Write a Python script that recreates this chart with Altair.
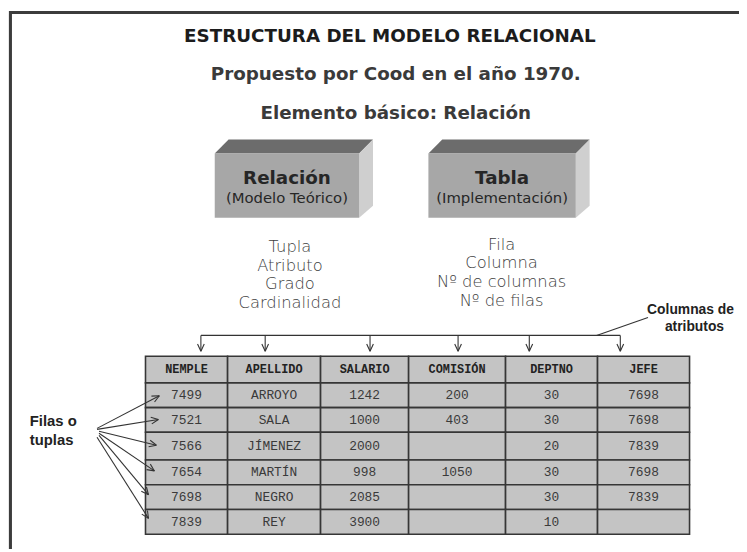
import math
import altair as alt
import pandas as pd

# ---------------- data (text content) ----------------
title_lines = ["ESTRUCTURA DEL MODELO RELACIONAL",
               "Propuesto por Cood en el año 1970.",
               "Elemento básico: Relación"]
box_titles = ["Relación", "Tabla"]
box_subtitles = ["(Modelo Teórico)", "(Implementación)"]
relacion_terms = ["Tupla", "Atributo", "Grado", "Cardinalidad"]
tabla_terms = ["Fila", "Columna", "Nº de columnas", "Nº de filas"]
rows_label = ["Filas o", "tuplas"]
cols_label = ["Columnas de", "atributos"]

columns = ["NEMPLE", "APELLIDO", "SALARIO", "COMISIÓN", "DEPTNO", "JEFE"]
nemple = ["7499", "7521", "7566", "7654", "7698", "7839"]
apellido = ["ARROYO", "SALA", "JÍMENEZ", "MARTÍN", "NEGRO", "REY"]
salario = ["1242", "1000", "2000", "998", "2085", "3900"]
comision = ["200", "403", "", "1050", "", ""]
deptno = ["30", "30", "20", "30", "30", "10"]
jefe = ["7698", "7698", "7839", "7698", "7839", ""]

# ---------------- layout (page coordinates) ----------------
W, H = 739, 544
X0, Y0 = 8, 8
title_y = [33, 72, 111]
title_x = [394, 400, 400]
box_left = [217, 433]
box_right = [363, 582]
box_top, box_bottom = 152, 217
depth_dx, depth_dy = 14, 14
list_x = [293, 507]
list_y = [[247, 266, 284, 303], [245, 263, 282, 301]]
col_edges = [147, 230, 324, 413, 511, 604, 697]
row_edges = [357, 384, 409, 434, 462, 487, 512, 537]
col_arrow_x = [203, 268, 374, 463, 535, 627]
bus_y, arrow_tip_y = 336, 352
row_arrow_start = [(98, 430), (98, 431), (100, 433), (100, 435), (100, 437), (98, 439)]
row_arrow_tip = [(161, 397), (160, 421), (158, 447), (156, 473), (150, 497), (150, 521)]

xs = alt.Scale(domain=[X0, X0 + W], nice=False, zero=False)
ys = alt.Scale(domain=[Y0, Y0 + H], nice=False, zero=False, reverse=True)


def X(f="x"):
    return alt.X(f"{f}:Q", scale=xs, axis=None)


def Y(f="y"):
    return alt.Y(f"{f}:Q", scale=ys, axis=None)


def texts(df, **kw):
    return alt.Chart(df).mark_text(baseline="middle", **kw).encode(
        x=X(), y=Y(), text="t:N")


layers = []

# outer grey margin and panel
margin = pd.DataFrame({"x": [X0], "x2": [10], "y": [Y0], "y2": [Y0 + H]})
layers.append(alt.Chart(margin).mark_rect(color="#ebebeb").encode(x=X(), x2="x2", y=Y(), y2="y2"))
panel = pd.DataFrame({"x": [10.5], "x2": [900], "y": [9.5], "y2": [900]})
layers.append(alt.Chart(panel).mark_rect(fill="white", stroke="#3c3c3c", strokeWidth=3, clip=True)
              .encode(x=X(), x2="x2", y=Y(), y2="y2"))

# titles
layers.append(texts(pd.DataFrame({"t": title_lines[:1], "x": title_x[:1], "y": title_y[:1]}),
                    font="DejaVu Sans", fontSize=18.5, fontWeight="bold", color="#1c1c1c"))
layers.append(texts(pd.DataFrame({"t": title_lines[1:], "x": title_x[1:], "y": title_y[1:]}),
                    font="DejaVu Sans", fontSize=18.5, fontWeight="bold", color="#3a3a3a"))

# 3D boxes
front = pd.DataFrame({"x": box_left, "x2": box_right, "y": [box_top] * 2, "y2": [box_bottom] * 2})
top_rows, side_rows = [], []
for i, (l, r) in enumerate(zip(box_left, box_right)):
    top_rows += [{"box": i, "y": box_top, "xa": l, "xb": r},
                 {"box": i, "y": box_top - depth_dy, "xa": l + depth_dx, "xb": r + depth_dx}]
    side_rows += [{"box": i, "x": r, "ya": box_top, "yb": box_bottom},
                  {"box": i, "x": r + depth_dx, "ya": box_top - depth_dy, "yb": box_bottom - 12}]
layers.append(alt.Chart(pd.DataFrame(top_rows)).mark_area(orient="horizontal", color="#6c6c6c")
              .encode(y=Y(), x=X("xa"), x2="xb", detail="box:N"))
layers.append(alt.Chart(pd.DataFrame(side_rows)).mark_area(orient="vertical", color="#cfcfcf")
              .encode(x=X(), y=Y("ya"), y2="yb", detail="box:N"))
layers.append(alt.Chart(front).mark_rect(color="#a7a7a7").encode(x=X(), x2="x2", y=Y(), y2="y2"))

centers = [(l + r) / 2 for l, r in zip(box_left, box_right)]
layers.append(texts(pd.DataFrame({"t": box_titles, "x": centers, "y": [177, 177]}),
                    font="DejaVu Sans", fontSize=18.5, fontWeight="bold", color="#262626"))
layers.append(texts(pd.DataFrame({"t": box_subtitles, "x": centers, "y": [197, 197]}),
                    font="DejaVu Sans", fontSize=15, color="#262626"))

# term lists
lst = pd.DataFrame({"t": relacion_terms + tabla_terms,
                    "x": [list_x[0]] * 4 + [list_x[1]] * 4,
                    "y": list_y[0] + list_y[1]})
layers.append(texts(lst, font="DejaVu Sans", fontSize=16.5, fontWeight=300, color="#404040"))

# side labels
layers.append(texts(pd.DataFrame({"t": rows_label, "x": [30, 30], "y": [423, 442]}),
                    font="Liberation Sans", fontSize=15, fontWeight="bold", color="#222", align="left"))
layers.append(texts(pd.DataFrame({"t": cols_label, "x": [698, 702], "y": [310, 328]}),
                    font="Liberation Sans", fontSize=14, fontWeight="bold", color="#222"))


def arrow_heads(segs, length=8, half=25):
    out = []
    for (x1, y1), (x2, y2) in segs:
        a = math.atan2(y2 - y1, x2 - x1)
        for s in (-1, 1):
            b = a + math.pi + s * math.radians(half)
            out.append({"x": x2, "y": y2, "x2": x2 + length * math.cos(b), "y2": y2 + length * math.sin(b)})
    return out


# connector lines
lines = [{"x": col_arrow_x[0], "y": bus_y, "x2": col_arrow_x[-1], "y2": bus_y},
         {"x": 603, "y": bus_y, "x2": 655, "y2": 318}]
col_segs = [((cx, bus_y), (cx, arrow_tip_y)) for cx in col_arrow_x]
lines += [{"x": a[0], "y": a[1], "x2": b[0], "y2": b[1]} for a, b in col_segs]
row_segs = list(zip(row_arrow_start, row_arrow_tip))
lines += [{"x": a[0], "y": a[1], "x2": b[0], "y2": b[1]} for a, b in row_segs]
lines += arrow_heads(col_segs + row_segs)

# table
cells, header_txt, body_txt = [], [], []
body = [nemple, apellido, salario, comision, deptno, jefe]
for r in range(len(row_edges) - 1):
    for c in range(len(columns)):
        cells.append({"x": col_edges[c], "x2": col_edges[c + 1], "y": row_edges[r], "y2": row_edges[r + 1]})
        cx = (col_edges[c] + col_edges[c + 1]) / 2
        cy = (row_edges[r] + row_edges[r + 1]) / 2
        if r == 0:
            header_txt.append({"t": columns[c], "x": cx, "y": cy})
        else:
            body_txt.append({"t": body[c][r - 1], "x": cx, "y": cy})
layers.append(alt.Chart(pd.DataFrame(cells)).mark_rect(fill="#c4c4c4", stroke="#363636", strokeWidth=1.6)
              .encode(x=X(), x2="x2", y=Y(), y2="y2"))
layers.append(texts(pd.DataFrame(header_txt), font="Liberation Mono", fontSize=12, fontWeight="bold", color="#222"))
layers.append(texts(pd.DataFrame(body_txt), font="Liberation Mono", fontSize=13, color="#3a3a3a"))

layers.append(alt.Chart(pd.DataFrame(lines)).mark_rule(color="#333", strokeWidth=1.1)
              .encode(x=X(), y=Y(), x2="x2", y2="y2"))

chart = alt.layer(*layers).properties(
    width=W, height=H, padding=0,
    autosize=alt.AutoSizeParams(type="none"),
    background="white",
).configure_view(stroke=None)

chart.save("out.html", embed_options={"renderer": "svg", "actions": False})
